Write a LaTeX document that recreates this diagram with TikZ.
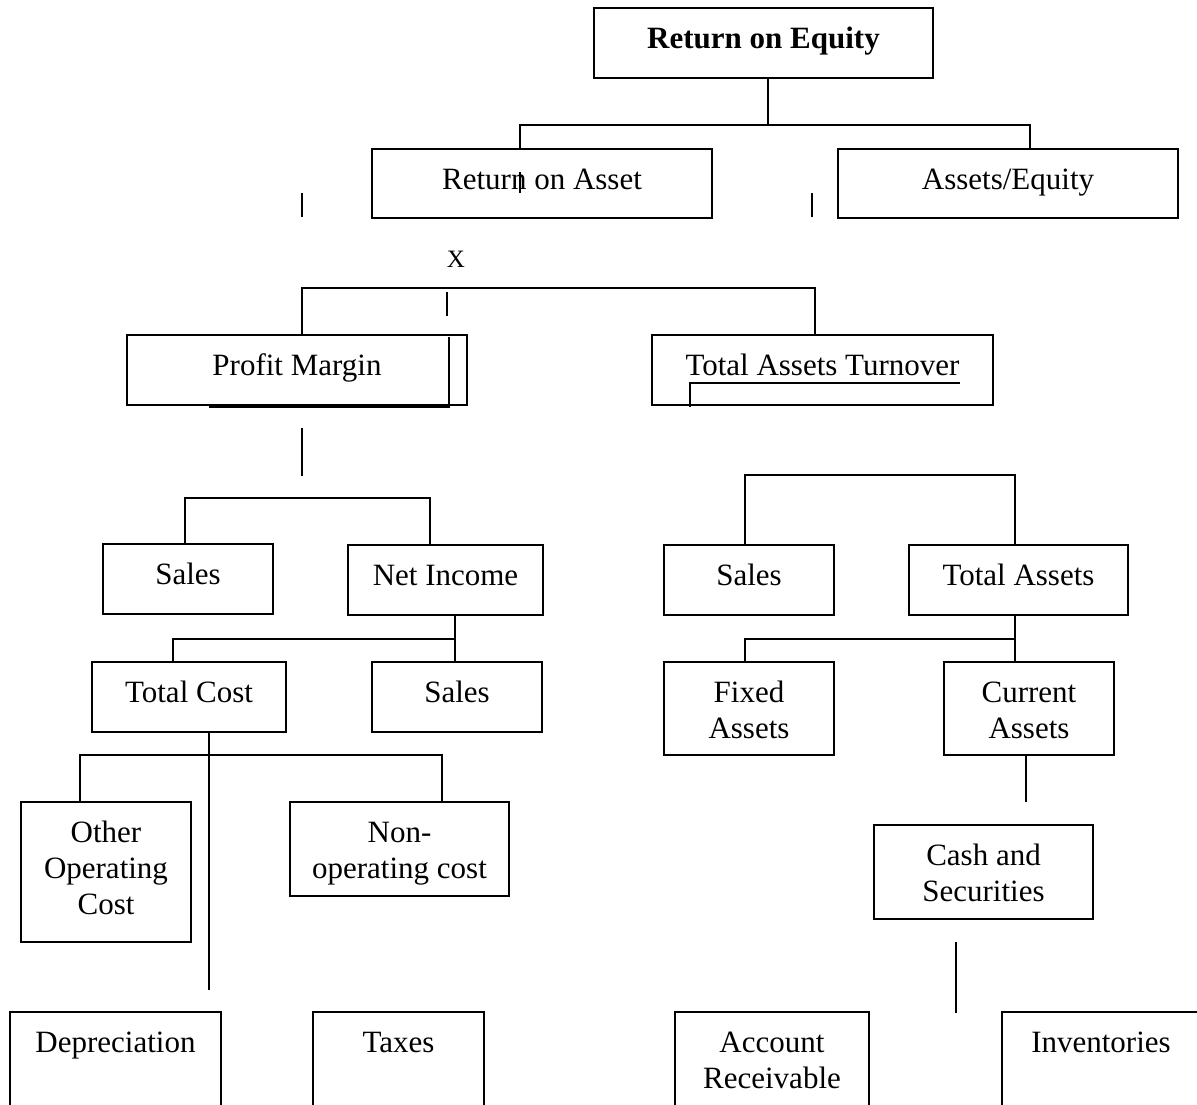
\documentclass[tikz,border=0pt]{standalone}
\usepackage{fontspec}
\setmainfont{Liberation Serif}
\newcommand\mkbox[6]{%
  \node[box, minimum width=#4pt, minimum height=#5pt] (#1) at (#2,#3) {};
  \node[txt] (#1-t) at ([yshift=-40pt]#1.north) {\parbox[t]{#4pt}{\centering #6}};}
\begin{document}
\begin{tikzpicture}[x=1pt,y=-1pt,
  box/.style={draw, line width=2pt, inner sep=0pt, outer sep=0pt, anchor=north west},
  txt/.style={inner sep=0pt, outer sep=0pt, anchor=base, font=\fontsize{31}{36}\selectfont},
  conn/.style={line width=2pt},
  tick/.style={line width=2pt}]
\useasboundingbox (0,0) rectangle (1197,1104);
\clip (0,0) rectangle (1197,1104);

% boxes
\mkbox{roe}{594}{8}{339}{70}{\bfseries Return on Equity}
\mkbox{roa}{372}{149}{340}{69}{Return on Asset}
\mkbox{ae}{838}{149}{340}{69}{Assets/Equity}
\mkbox{pm}{127}{335}{340}{70}{Profit Margin}
\mkbox{tat}{652}{335}{341}{70}{Total Assets Turnover}
\mkbox{salesa}{103}{544}{170}{70}{Sales}
\mkbox{ni}{348}{545}{195}{70}{Net Income}
\mkbox{tc}{92}{662}{194}{70}{Total Cost}
\mkbox{salesb}{372}{662}{170}{70}{Sales}
\mkbox{ooc}{21}{802}{170}{140}{Other\\Operating\\Cost}
\mkbox{noc}{290}{802}{219}{94}{Non-\\operating cost}
\mkbox{dep}{10}{1012}{211}{130}{Depreciation}
\mkbox{tax}{313}{1012}{171}{130}{Taxes}
\mkbox{salesc}{664}{545}{170}{70}{Sales}
\mkbox{ta}{909}{545}{219}{70}{Total Assets}
\mkbox{fa}{664}{662}{170}{93}{Fixed\\Assets}
\mkbox{ca}{944}{662}{170}{93}{Current\\Assets}
\mkbox{cash}{874}{825}{219}{94}{Cash and\\Securities}
\mkbox{ar}{675}{1012}{194}{130}{Account\\Receivable}
\mkbox{inv}{1002}{1012}{198}{130}{Inventories}

\node[inner sep=0pt, anchor=base, font=\fontsize{25}{30}\selectfont] (xmark) at (456,267) {X};

% junction coordinates
\coordinate (a1) at (768,125);
\coordinate (a2) at (520,125);
\coordinate (a3) at (1030,125);
\coordinate (b1) at (302,288);
\coordinate (b2) at (815,288);
\coordinate (c1) at (185,498);
\coordinate (c2) at (430,498);
\coordinate (d1) at (173,639);
\coordinate (d2) at (455,639);
\coordinate (e0) at (209,755);
\coordinate (e1) at (80,755);
\coordinate (e2) at (442,755);
\coordinate (e3) at (209,990);
\coordinate (f1) at (745,475);
\coordinate (f2) at (1015,475);
\coordinate (g1) at (745,639);
\coordinate (g2) at (1015,639);
\coordinate (h1) at (1026,802);

% connectors
\draw[conn] (roe.south -| a1) -- (a1);
\draw[conn] (roa.north -| a2) -- (a2) -- (a3) -- (ae.north -| a3);
\draw[conn] (pm.north -| b1) -- (b1) -- (b2) -- (tat.north -| b2);
\draw[conn] (salesa.north -| c1) -- (c1) -- (c2) -- (ni.north -| c2);
\draw[conn] (ni.south -| d2) -- (salesb.north -| d2);
\draw[conn] (tc.north -| d1) -- (d1) -- (d2);
\draw[conn] (tc.south -| e0) -- (e3);
\draw[conn] (ooc.north -| e1) -- (e1) -- (e2) -- (noc.north -| e2);
\draw[conn] (salesc.north -| f1) -- (f1) -- (f2) -- (ta.north -| f2);
\draw[conn] (ta.south -| g2) -- (ca.north -| g2);
\draw[conn] (fa.north -| g1) -- (g1) -- (g2);
\draw[conn] (ca.south -| h1) -- (h1);

% stray strokes
\coordinate (k1a) at (520,172); \coordinate (k1b) at (520,193);
\coordinate (k2a) at (302,193); \coordinate (k2b) at (302,217);
\coordinate (k3a) at (812,193); \coordinate (k3b) at (812,217);
\coordinate (k4a) at (447,292); \coordinate (k4b) at (447,316);
\coordinate (k5a) at (449,337); \coordinate (k5b) at (449,408);
\coordinate (k6a) at (209,406.5);
\coordinate (k7a) at (960,383); \coordinate (k7b) at (690,383); \coordinate (k7c) at (690,407);
\coordinate (k8a) at (302,428); \coordinate (k8b) at (302,476);
\coordinate (k9a) at (956,942); \coordinate (k9b) at (956,1013);
\draw[tick] (k1a) -- (k1b);
\draw[tick] (k2a) -- (k2b);
\draw[tick] (k3a) -- (k3b);
\draw[tick] (k4a) -- (k4b);
\draw[tick] (k5a) -- (k5b);
\draw[tick] (k6a) -- (k6a -| k5a);
\draw[tick] (k7a) -- (k7b) -- (k7c);
\draw[tick] (k8a) -- (k8b);
\draw[tick] (k9a) -- (k9b);
\end{tikzpicture}
\end{document}
